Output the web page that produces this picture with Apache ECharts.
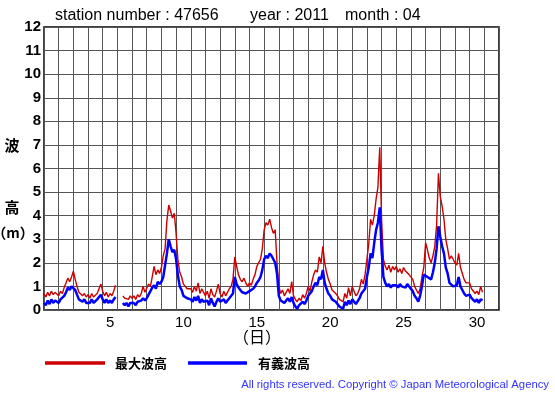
<!DOCTYPE html>
<html><head><meta charset="utf-8">
<script src="https://cdn.jsdelivr.net/npm/echarts@6/dist/echarts.min.js"></script>
<style>html,body{margin:0;padding:0;background:#fff}#c{width:555px;height:395px}</style>
</head><body><div id="c"></div>
<script>
// sample step: 3 hours (1/8 day), starting 1 April 00:00
const stepDays = 0.125;
const xTickLabels = [5, 10, 15, 20, 25, 30];
const yTicks = [0,1,2,3,4,5,6,7,8,9,10,11,12];
const seriesNames = ['最大波高', '有義波高'];
const maxWave = [
0.7,0.55,0.75,0.6,0.8,0.65,0.75,0.7,
0.6,0.8,0.7,0.95,1.0,1.35,1.2,1.4,
1.65,1.3,1.0,0.75,0.8,0.6,0.7,0.55,
0.65,0.5,0.7,0.55,0.6,0.7,0.9,1.1,
0.8,0.6,0.75,0.55,0.7,0.6,0.8,1.05,
null,null,null,0.6,0.5,0.55,0.45,0.6,
0.5,0.6,0.45,0.65,0.55,0.7,1.0,0.75,
0.8,1.1,1.0,1.4,1.85,1.5,1.7,1.55,
1.8,2.3,2.6,3.8,4.45,4.2,3.9,4.1,
3.25,2.1,1.6,1.4,1.1,1.0,0.9,0.85,
0.9,0.75,1.0,0.8,1.15,0.7,0.9,0.75,
0.6,0.8,0.5,0.9,0.65,0.55,0.8,1.1,
0.7,0.55,0.8,0.6,0.75,0.9,1.0,1.3,
2.25,1.85,1.5,1.3,1.2,1.35,1.15,1.0,
1.15,1.05,1.3,1.5,1.85,1.9,2.15,2.6,
3.4,3.7,3.6,3.85,3.5,3.25,3.4,2.0,
1.0,0.7,0.85,0.6,0.75,0.9,0.7,1.2,
0.6,0.45,0.35,0.5,0.4,0.65,0.5,0.7,
1.0,0.8,1.2,1.5,1.7,1.6,2.25,2.0,
2.7,2.0,1.6,1.3,1.1,0.85,0.9,0.7,
0.6,0.45,0.5,0.35,0.7,0.5,0.95,0.6,
1.0,0.8,0.6,0.7,0.9,1.3,1.1,1.5,
2.15,2.8,3.85,3.6,4.0,4.7,5.2,6.9,
3.85,2.15,1.85,1.7,1.9,1.6,1.85,1.7,
1.85,1.6,1.75,1.55,1.8,1.65,1.7,1.5,
1.55,1.3,1.0,0.85,0.7,0.9,1.4,1.8,
2.85,2.55,2.2,2.0,2.3,2.7,3.6,5.8,
4.8,4.4,3.85,3.0,2.6,2.15,2.3,2.15,
2.0,1.9,2.4,1.8,1.55,1.3,1.15,1.2,
1.15,0.9,0.85,0.7,0.8,0.65,1.0,0.75
];
const sigWave = [
0.3,0.2,0.4,0.25,0.45,0.3,0.4,0.35,
0.3,0.45,0.4,0.6,0.75,0.95,0.85,1.0,
0.95,0.85,0.65,0.45,0.5,0.35,0.45,0.3,
0.35,0.3,0.45,0.3,0.35,0.45,0.55,0.65,
0.45,0.3,0.45,0.3,0.4,0.3,0.45,0.55,
null,null,null,0.3,0.2,0.3,0.15,0.3,
0.25,0.3,0.2,0.35,0.3,0.4,0.5,0.4,
0.5,0.65,0.7,0.95,1.05,0.9,1.2,1.1,
1.2,1.4,1.9,2.4,3.0,2.7,2.45,2.55,
2.15,1.45,1.0,0.85,0.6,0.55,0.5,0.45,
0.45,0.35,0.55,0.4,0.6,0.3,0.45,0.35,
0.3,0.4,0.2,0.5,0.3,0.15,0.35,0.5,
0.35,0.3,0.45,0.3,0.4,0.5,0.55,0.7,
1.4,1.1,0.95,0.85,0.75,0.8,0.7,0.65,
0.8,0.75,0.9,1.0,1.15,1.25,1.4,1.7,
2.15,2.3,2.2,2.4,2.3,2.15,2.0,1.55,
0.6,0.4,0.45,0.3,0.4,0.5,0.35,0.55,
0.3,0.15,0.05,0.2,0.15,0.35,0.25,0.4,
0.6,0.55,0.8,1.0,1.15,1.05,1.4,1.3,
1.7,1.15,0.9,0.7,0.6,0.45,0.5,0.35,
0.3,0.15,0.2,0.05,0.35,0.2,0.4,0.25,
0.45,0.4,0.25,0.3,0.5,0.7,0.65,0.9,
1.4,1.8,2.4,2.2,2.85,3.4,3.7,4.35,
2.55,1.4,1.15,1.0,1.1,0.95,1.05,1.0,
1.05,0.95,1.1,1.0,1.05,0.95,1.1,1.0,
1.0,0.8,0.6,0.5,0.35,0.6,1.0,1.5,
1.55,1.4,1.35,1.3,1.6,2.0,2.6,3.55,
3.1,2.7,2.4,1.8,1.55,1.15,1.2,1.0,
1.0,1.05,1.4,1.0,0.85,0.7,0.6,0.65,
0.65,0.5,0.45,0.35,0.45,0.3,0.45,0.4
];

const toPairs = arr => arr.map((v, i) => [i * stepDays, v]);
const chart = echarts.init(document.getElementById('c'), null, {renderer: 'canvas'});
const F = '"Liberation Sans", Arial, sans-serif';
const CJK = '"Noto Sans CJK JP", sans-serif';
chart.setOption({
  animation: false,
  backgroundColor: '#fff',
  grid: {left: 44, top: 27, width: 455, height: 283, show: true, borderColor: '#000', borderWidth: 1.5, backgroundColor: 'transparent'},
  xAxis: [
    {type: 'value', min: 0, max: 31, interval: 1,
     axisLine: {show: false}, axisTick: {show: false}, axisLabel: {show: false},
     splitLine: {show: true, lineStyle: {color: '#555', width: 1}}},
    {type: 'value', min: 0.5, max: 31.5, interval: 0.5, position: 'bottom',
     axisLine: {show: false}, axisTick: {show: false}, splitLine: {show: false},
     axisLabel: {show: true, color: '#000', fontFamily: F, fontSize: 15, margin: 5,
       formatter: v => xTickLabels.indexOf(v) >= 0 ? String(v) : ''}}
  ],
  yAxis: {type: 'value', min: 0, max: 12, interval: 1,
    axisLine: {show: false}, axisTick: {show: false},
    splitLine: {show: true, lineStyle: {color: '#555', width: 1}},
    axisLabel: {color: '#000', fontFamily: F, fontWeight: 'bold', fontSize: 15, margin: 3,
      formatter: v => yTicks.indexOf(v) >= 0 ? String(v) : ''}},
  series: [
    {name: seriesNames[0], type: 'line', xAxisIndex: 0, data: toPairs(maxWave), showSymbol: false,
     connectNulls: false, lineStyle: {color: '#cc0000', width: 1.4}, itemStyle: {color: '#cc0000'}, z: 2},
    {name: seriesNames[1], type: 'line', xAxisIndex: 0, data: toPairs(sigWave), showSymbol: false,
     connectNulls: false, lineStyle: {color: '#0000ff', width: 2.5}, itemStyle: {color: '#0000ff'}, z: 3}
  ],
  graphic: [
    {type: 'text', left: 55, top: 8, style: {text: 'station number : 47656', font: '16px ' + F, fill: '#000'}},
    {type: 'text', left: 250, top: 8, style: {text: 'year : 2011', font: '16px ' + F, fill: '#000'}},
    {type: 'text', left: 345, top: 8, style: {text: 'month : 04', font: '16px ' + F, fill: '#000'}},
    {type: 'text', x: 12, y: 145, style: {text: '波', font: 'bold 15px ' + CJK, fill: '#000', align: 'center', verticalAlign: 'middle'}},
    {type: 'text', x: 12, y: 207, style: {text: '高', font: 'bold 15px ' + CJK, fill: '#000', align: 'center', verticalAlign: 'middle'}},
    {type: 'text', x: 13, y: 233, style: {text: '（m）', font: 'bold 14px ' + CJK, fill: '#000', align: 'center', verticalAlign: 'middle'}},
    {type: 'text', x: 257, y: 337, style: {text: '（日）', font: '16px ' + CJK, fill: '#000', align: 'center', verticalAlign: 'middle'}},
    {type: 'line', shape: {x1: 45, y1: 363, x2: 105, y2: 363}, style: {stroke: '#cc0000', lineWidth: 3.5}},
    {type: 'text', x: 115, y: 363, style: {text: seriesNames[0], font: 'bold 13px ' + CJK, fill: '#000', verticalAlign: 'middle'}},
    {type: 'line', shape: {x1: 188, y1: 363, x2: 247, y2: 363}, style: {stroke: '#0000ff', lineWidth: 3.5}},
    {type: 'text', x: 258, y: 363, style: {text: seriesNames[1], font: 'bold 13px ' + CJK, fill: '#000', verticalAlign: 'middle'}},
    {type: 'text', x: 549, y: 385, style: {text: 'All rights reserved. Copyright © Japan Meteorological Agency', font: '11.3px ' + F, fill: '#3333ff', align: 'right', verticalAlign: 'middle'}}
  ]
});
</script></body></html>
